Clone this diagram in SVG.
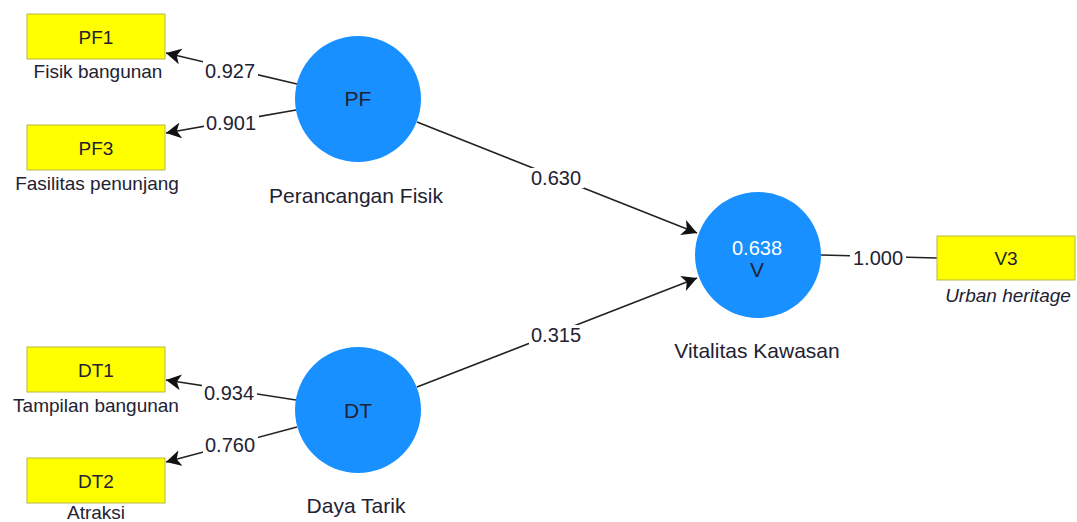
<svg xmlns="http://www.w3.org/2000/svg" width="1077" height="522" viewBox="0 0 1077 522">
<defs>
<style>
text{font-family:"Liberation Sans",Arial,sans-serif;fill:#222233;text-anchor:middle}
.box{fill:#ffff00;stroke:#b8b840;stroke-width:1}
.lv{fill:#1890ff}
.cap{font-size:19px}
.lbl{font-size:19px}
.big{font-size:21px}
.val{font-size:20px}
.bg{fill:#ffffff}
.edge{stroke:#222222;stroke-width:1.6;fill:none}
</style>
<marker id="arr" markerUnits="userSpaceOnUse" markerWidth="18" markerHeight="16" refX="15" refY="8" orient="auto">
<path d="M0,0 L15,8 L0,16 L4,8 Z" fill="#111111"/>
</marker>
</defs>
<rect width="1077" height="522" fill="#ffffff"/>
<g id="connectors">
<line class="edge" x1="297" y1="84" x2="166" y2="53" marker-end="url(#arr)"/>
<line class="edge" x1="296" y1="110" x2="166" y2="133" marker-end="url(#arr)"/>
<line class="edge" x1="296" y1="400" x2="166" y2="380" marker-end="url(#arr)"/>
<line class="edge" x1="297" y1="427" x2="166" y2="462" marker-end="url(#arr)"/>
<line class="edge" x1="417" y1="122" x2="697" y2="233" marker-end="url(#arr)"/>
<line class="edge" x1="417" y1="387" x2="697" y2="278" marker-end="url(#arr)"/>
<line class="edge" x1="821" y1="255" x2="937" y2="258"/>
<rect class="bg" x="203" y="61" width="55" height="20"/>
<rect class="bg" x="204" y="113" width="55" height="20"/>
<rect class="bg" x="202" y="383" width="55" height="20"/>
<rect class="bg" x="203" y="435" width="55" height="20"/>
<rect class="bg" x="529" y="168" width="55" height="20"/>
<rect class="bg" x="529" y="325" width="55" height="20"/>
<rect class="bg" x="850" y="248" width="56" height="20"/>
<text class="val" x="230" y="78">0.927</text>
<text class="val" x="231" y="130">0.901</text>
<text class="val" x="229" y="400">0.934</text>
<text class="val" x="230" y="452">0.760</text>
<text class="val" x="556" y="185">0.630</text>
<text class="val" x="556" y="342">0.315</text>
<text class="val" x="878" y="265">1.000</text>
</g>
<g id="PF1">
<rect class="box" x="27" y="14" width="138" height="45"/>
<text class="lbl" x="96" y="44">PF1</text>
<text class="cap" x="98" y="78">Fisik bangunan</text>
</g>
<g id="PF3">
<rect class="box" x="27" y="125" width="138" height="45"/>
<text class="lbl" x="96" y="155">PF3</text>
<text class="cap" x="97" y="190">Fasilitas penunjang</text>
</g>
<g id="DT1">
<rect class="box" x="27" y="347" width="138" height="45"/>
<text class="lbl" x="96" y="377">DT1</text>
<text class="cap" x="96" y="412">Tampilan bangunan</text>
</g>
<g id="DT2">
<rect class="box" x="27" y="458" width="138" height="45"/>
<text class="lbl" x="96" y="488">DT2</text>
<text class="cap" x="96" y="519">Atraksi</text>
</g>
<g id="V3">
<rect class="box" x="937" y="236" width="138" height="44"/>
<text class="lbl" x="1006" y="265">V3</text>
<text class="cap" x="1008" y="302" font-style="italic">Urban heritage</text>
</g>
<g id="PF">
<circle class="lv" cx="358" cy="99" r="63"/>
<text class="big" x="358" y="106">PF</text>
<text class="big" x="356" y="203">Perancangan Fisik</text>
</g>
<g id="DT">
<circle class="lv" cx="358" cy="410" r="63"/>
<text class="big" x="358" y="418">DT</text>
<text class="big" x="356" y="513">Daya Tarik</text>
</g>
<g id="V">
<circle class="lv" cx="758" cy="255" r="63"/>
<text class="big" x="757" y="255" style="fill:#ffffff;font-size:20px">0.638</text>
<text class="big" x="757" y="277">V</text>
<text class="big" x="757" y="358">Vitalitas Kawasan</text>
</g>
</svg>
